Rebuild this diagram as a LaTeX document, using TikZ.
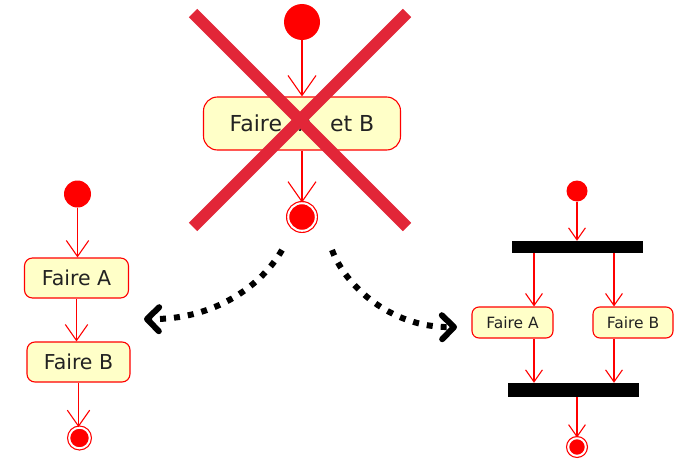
\documentclass[tikz,border=0pt]{standalone}
\usepackage{fontspec}
\setmainfont{DejaVu Sans}
\usetikzlibrary{arrows.meta}
\definecolor{aktivgelb}{RGB}{255,255,200}
\definecolor{kreuzrot}{RGB}{226,38,56}
\definecolor{textgrau}{RGB}{34,34,34}

\begin{document}
\begin{tikzpicture}[x=1pt,y=-1pt,
  aktion/.style={draw=red,fill=aktivgelb,rounded corners=#1,line width=1.1pt,text=textgrau,inner sep=0pt},
  startknoten/.style={circle,fill=red,inner sep=0pt,minimum size=#1},
  endknoten/.style={circle,fill=red,draw=red,double=white,double distance=2pt,line width=1.2pt,inner sep=0pt,minimum size=#1},
  balken/.style={fill=black,inner sep=0pt,minimum width=131pt},
  fluss/.style={draw=red,line width=1.1pt,-{Straight Barb[length=#1,width'=0pt 1.4]}},
  kreuz/.style={draw=kreuzrot,line width=12pt},
  punktpfeil/.style={line width=6pt,dash pattern=on 6pt off 8pt,-{Straight Barb[length=12pt,width=24pt,round]}}]
\useasboundingbox (0,0) rectangle (679,460);

% Koordinaten
\coordinate (kreuzobenlinks) at (193,13);
\coordinate (kreuzuntenrechts) at (407,227);
\coordinate (kreuzobenrechts) at (407,13);
\coordinate (kreuzuntenlinks) at (193,227);
\coordinate (pfeillinksstart) at (282,250);
\coordinate (pfeillinksende) at (144,319);
\coordinate (pfeilrechtsstart) at (332,250);
\coordinate (pfeilrechtsende) at (457,327);
\coordinate (rechtsspura) at (534,0);
\coordinate (rechtsspurb) at (614,0);

% Oben
\node[startknoten=36pt] (obenstart) at (302,22) {};
\node[aktion=14pt,minimum width=197pt,minimum height=53pt,font=\fontsize{22}{26}\selectfont] (obenaktion) at (302,123.5) {Faire\hspace{0.75em}A\hspace{0.75em}et B};
\node[endknoten=27.6pt] (obenende) at (302,217) {};
\draw[fluss=20pt] (obenstart) -- (obenaktion.north);
\draw[fluss=20pt] (obenaktion.south) -- (obenende);

% Kreuz
\draw[kreuz] (kreuzobenlinks) -- (kreuzuntenrechts);
\draw[kreuz] (kreuzobenrechts) -- (kreuzuntenlinks);

% Links
\node[startknoten=27pt] (linksstart) at (77.5,194) {};
\node[aktion=8pt,minimum width=104pt,minimum height=40pt,font=\fontsize{20.5}{24}\selectfont] (linksfairea) at (76.5,278) {Faire A};
\node[aktion=8pt,minimum width=103pt,minimum height=40pt,font=\fontsize{20.5}{24}\selectfont] (linksfaireb) at (78.5,362) {Faire B};
\node[endknoten=20.6pt] (linksende) at (79.5,438) {};
\draw[fluss=16pt] (linksstart) -- (linksstart |- linksfairea.north);
\draw[fluss=16pt] (linksfairea.south) -- (linksfairea.south |- linksfaireb.north);
\draw[fluss=16pt] (linksfaireb.south) -- (linksfaireb.south |- linksende.north);

% Rechts
\node[startknoten=21pt] (rechtsstart) at (577,191) {};
\node[balken,minimum height=12pt] (rechtsgabel) at (577.5,247) {};
\node[aktion=7pt,minimum width=81pt,minimum height=31pt,font=\fontsize{15.5}{18}\selectfont] (rechtsfairea) at (512.5,322.5) {Faire A};
\node[aktion=7pt,minimum width=80pt,minimum height=31pt,font=\fontsize{15.5}{18}\selectfont] (rechtsfaireb) at (633,322.5) {Faire B};
\node[balken,minimum height=14pt] (rechtsvereinigung) at (573.5,390) {};
\node[endknoten=17.6pt] (rechtsende) at (577,447) {};
\draw[fluss=12pt] (rechtsstart) -- (rechtsstart |- rechtsgabel.north);
\draw[fluss=12pt] (rechtsgabel.south -| rechtsspura) -- (rechtsfairea.north -| rechtsspura);
\draw[fluss=12pt] (rechtsgabel.south -| rechtsspurb) -- (rechtsfaireb.north -| rechtsspurb);
\draw[fluss=12pt] (rechtsfairea.south -| rechtsspura) -- (rechtsvereinigung.north -| rechtsspura);
\draw[fluss=12pt] (rechtsfaireb.south -| rechtsspurb) -- (rechtsvereinigung.north -| rechtsspurb);
\draw[fluss=12pt] (rechtsvereinigung.south -| rechtsende) -- (rechtsende);

% Pfeile
\draw[punktpfeil] (pfeillinksstart) .. controls (262,285) and (215,320) .. (pfeillinksende);
\draw[punktpfeil] (pfeilrechtsstart) .. controls (345,285) and (390,328) .. (pfeilrechtsende);
\end{tikzpicture}
\end{document}
